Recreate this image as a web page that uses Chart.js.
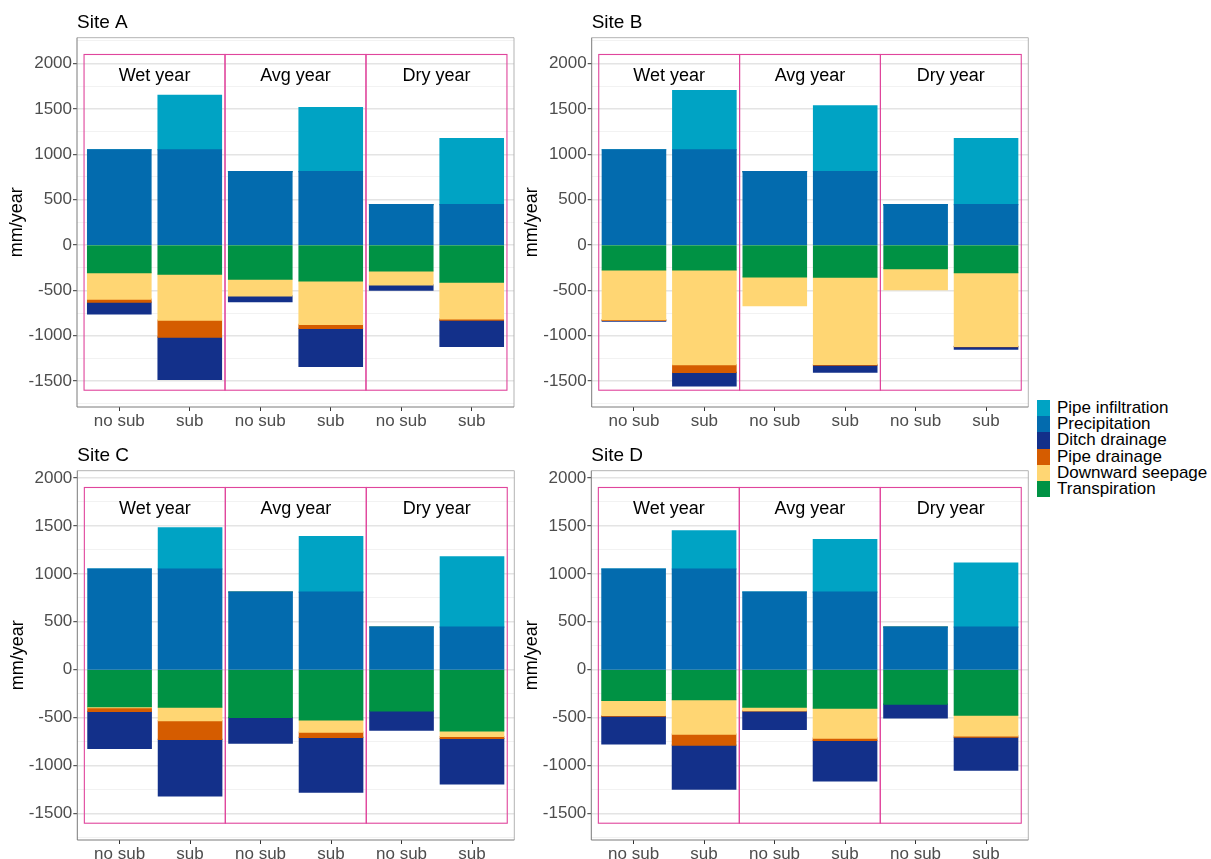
<!DOCTYPE html>
<html>
<head>
<meta charset="utf-8">
<script src="https://cdn.jsdelivr.net/npm/chart.js@4/dist/chart.umd.min.js"></script>
<style>
  html, body { margin: 0; padding: 0; background: #fff; }
  body { width: 1211px; height: 859px; position: relative; overflow: hidden;
         font-family: "Liberation Sans", Arial, sans-serif; }
  .panel { position: absolute; }
  .legend { position: absolute; left: 1037px; top: 400px; }
  .legend .row { height: 16.2px; display: flex; align-items: center; position: relative; }
  .legend .key { width: 13px; height: 16.2px; }
  .legend .lbl { position: absolute; left: 20px; font-size: 17px; line-height: 16.2px; color: #000; white-space: nowrap; }
</style>
</head>
<body>
<div class="panel" style="left:0;top:0"><canvas id="c0" width="520" height="430"></canvas></div>
<div class="panel" style="left:520px;top:0"><canvas id="c1" width="514" height="430"></canvas></div>
<div class="panel" style="left:0;top:430px"><canvas id="c2" width="520" height="429"></canvas></div>
<div class="panel" style="left:520px;top:430px"><canvas id="c3" width="514" height="429"></canvas></div>
<div class="legend" id="legend"></div>
<script>
// ---- data (mm/year) ----
const sites = ['Site A', 'Site B', 'Site C', 'Site D'];
const xLabels = ['no sub', 'sub', 'no sub', 'sub', 'no sub', 'sub'];
const yearGroups = ['Wet year', 'Avg year', 'Dry year'];
const yTickLabels = [-1500, -1000, -500, 0, 500, 1000, 1500, 2000];
const boxTop = [2100, 2100, 1900, 1900];
const boxBottom = -1600;

const precipitation = [
  [1050, 1050, 810, 810, 445, 445],
  [1050, 1050, 810, 810, 445, 445],
  [1050, 1050, 810, 810, 445, 445],
  [1050, 1050, 810, 810, 445, 445]
];
const pipeInfiltration = [
  [0, 600, 0, 706, 0, 727],
  [0, 653, 0, 725, 0, 727],
  [0, 428, 0, 578, 0, 731],
  [0, 397, 0, 547, 0, 668]
];
const transpiration = [
  [-305, -320, -375, -396, -286, -410],
  [-275, -275, -352, -355, -260, -304],
  [-386, -390, -497, -522, -428, -637],
  [-320, -313, -390, -400, -358, -473]
];
const downwardSeepage = [
  [-292, -508, -185, -479, -154, -403],
  [-546, -1044, -315, -960, -231, -813],
  [-8, -142, 0, -128, 0, -59],
  [-157, -358, -36, -313, 0, -216]
];
const pipeDrainage = [
  [-33, -187, 0, -44, 0, -15],
  [-10, -84, 0, -8, 0, -3],
  [-41, -195, 0, -56, 0, -21],
  [-8, -115, -4, -24, 0, -15]
];
const ditchDrainage = [
  [-128, -465, -63, -418, -58, -289],
  [-8, -150, 0, -77, 0, -27],
  [-386, -588, -268, -571, -202, -473],
  [-287, -459, -193, -421, -143, -343]
];

// ---- styling ----
const FONT = '"Liberation Sans", Arial, sans-serif';
const COLORS = {
  'Pipe infiltration': '#00A3C4',
  'Precipitation': '#036BAE',
  'Ditch drainage': '#13308A',
  'Pipe drainage': '#D55C00',
  'Downward seepage': '#FFD673',
  'Transpiration': '#009244'
};
const legendOrder = ['Pipe infiltration', 'Precipitation', 'Ditch drainage',
                     'Pipe drainage', 'Downward seepage', 'Transpiration'];
const BOX_COLOR = '#E0459C';

// canvas-relative plot-area geometry for each panel
const layout = [
  { left: 77,   right: 6,   top: 37.7, bottom: 23 },
  { left: 71.7, right: 5.7, top: 37.7, bottom: 23 },
  { left: 77.3, right: 5.7, top: 40.7, bottom: 19 },
  { left: 71.3, right: 5.7, top: 40.7, bottom: 19 }
];

// decorations: panel frame, group boxes, group labels, titles
const panelDecor = {
  id: 'panelDecor',
  afterDatasetsDraw(chart, args, opts) {
    const { ctx, scales: { x, y } } = chart;
    ctx.save();
    ctx.strokeStyle = BOX_COLOR;
    ctx.lineWidth = 1.1;
    const yT = y.getPixelForValue(opts.boxTop);
    const yB = y.getPixelForValue(boxBottom);
    yearGroups.forEach((g, i) => {
      const x0 = x.getPixelForValue(0.5 + 2 * i);
      const x1 = x.getPixelForValue(2.5 + 2 * i);
      ctx.strokeRect(x0, yT, x1 - x0, yB - yT);
      ctx.fillStyle = '#000';
      ctx.font = '18px ' + FONT;
      ctx.textAlign = 'center';
      ctx.textBaseline = 'middle';
      ctx.fillText(g, (x0 + x1) / 2, yT + 21.5);
    });
    ctx.restore();
  },
  afterDraw(chart, args, opts) {
    const { ctx, chartArea: a } = chart;
    ctx.save();
    ctx.lineWidth = 1;
    ctx.strokeStyle = '#B3B3B3';
    ctx.beginPath();
    ctx.moveTo(a.left, a.top); ctx.lineTo(a.right, a.top); ctx.lineTo(a.right, a.bottom);
    ctx.stroke();
    ctx.strokeStyle = '#7A7A7A';
    ctx.beginPath();
    ctx.moveTo(a.left, a.top); ctx.lineTo(a.left, a.bottom); ctx.lineTo(a.right, a.bottom);
    ctx.stroke();
    ctx.fillStyle = '#000';
    ctx.font = '19px ' + FONT;
    ctx.textAlign = 'left';
    ctx.textBaseline = 'middle';
    ctx.fillText(opts.title, a.left, a.top - 15);
    ctx.translate(a.left - 59.7, (a.top + a.bottom) / 2);
    ctx.rotate(-Math.PI / 2);
    ctx.font = '18px ' + FONT;
    ctx.textAlign = 'center';
    ctx.fillText('mm/year', 0, 0);
    ctx.restore();
  }
};

function series(label, arr) {
  return {
    label,
    data: arr.map((v, j) => ({ x: j + 1, y: v })),
    backgroundColor: COLORS[label],
    borderWidth: 0,
    inflateAmount: 0.6,
    stack: 'water',
    barPercentage: 0.9,
    categoryPercentage: 1
  };
}

const majorSet = new Set(yTickLabels);

sites.forEach((site, i) => {
  const L = layout[i];
  const top = boxTop[i], bot = boxBottom;
  const pad = (top - bot) * 0.05;
  const yTicksAll = [];
  for (let v = -1750; v <= top + pad; v += 250) yTicksAll.push(v);

  new Chart(document.getElementById('c' + i), {
    type: 'bar',
    data: {
      datasets: [
        series('Precipitation', precipitation[i]),
        series('Pipe infiltration', pipeInfiltration[i]),
        series('Transpiration', transpiration[i]),
        series('Downward seepage', downwardSeepage[i]),
        series('Pipe drainage', pipeDrainage[i]),
        series('Ditch drainage', ditchDrainage[i])
      ]
    },
    options: {
      responsive: false,
      animation: false,
      devicePixelRatio: 1,
      layout: { padding: { top: L.top, right: L.right, left: 0, bottom: 0 } },
      plugins: {
        legend: { display: false },
        title: { display: false },
        tooltip: { enabled: false },
        panelDecor: { title: site, boxTop: top }
      },
      scales: {
        x: {
          type: 'linear',
          stacked: true,
          offset: false,
          min: 0.4,
          max: 6.6,
          afterBuildTicks: (s) => { s.ticks = xLabels.map((_, j) => ({ value: j + 1 })); },
          afterFit: (s) => { s.height = L.bottom; },
          ticks: {
            autoSkip: false,
            maxRotation: 0,
            padding: 0,
            color: '#4D4D4D',
            font: { family: FONT, size: 17 },
            callback: (v) => xLabels[Math.round(v) - 1]
          },
          grid: { offset: false, drawOnChartArea: false, drawTicks: true, tickLength: 4, tickColor: '#333', tickWidth: 1 },
          border: { display: false }
        },
        y: {
          type: 'linear',
          stacked: true,
          min: bot - pad,
          max: top + pad,
          afterBuildTicks: (s) => { s.ticks = yTicksAll.map(v => ({ value: v })); },
          afterFit: (s) => { s.width = L.left; },
          ticks: {
            autoSkip: false,
            padding: 1,
            color: '#4D4D4D',
            font: { family: FONT, size: 17 },
            callback: (v) => (majorSet.has(v) ? String(v) : '')
          },
          grid: {
            color: (c) => (c.tick && majorSet.has(c.tick.value) ? '#E4E4E4' : '#F2F2F2'),
            lineWidth: (c) => (c.tick && majorSet.has(c.tick.value) ? 1.4 : 1),
            tickColor: (c) => (c.tick && majorSet.has(c.tick.value) ? '#333' : 'rgba(0,0,0,0)'),
            tickLength: 4,
            tickWidth: 1
          },
          border: { display: false }
        }
      }
    },
    plugins: [panelDecor]
  });
});

// legend
const lg = document.getElementById('legend');
legendOrder.forEach(name => {
  const row = document.createElement('div');
  row.className = 'row';
  const key = document.createElement('div');
  key.className = 'key';
  key.style.background = COLORS[name];
  const lbl = document.createElement('span');
  lbl.className = 'lbl';
  lbl.textContent = name;
  row.appendChild(key);
  row.appendChild(lbl);
  lg.appendChild(row);
});
</script>
</body>
</html>
